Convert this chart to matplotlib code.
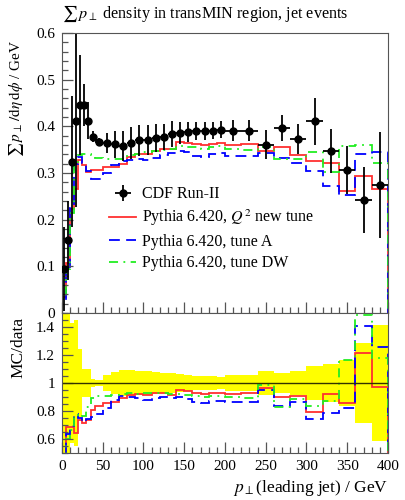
import numpy as np
import matplotlib
matplotlib.use("Agg")
import matplotlib.pyplot as plt
from matplotlib.ticker import MultipleLocator, FuncFormatter

plt.rcParams['font.family'] = ['Liberation Serif', 'DejaVu Serif']
plt.rcParams['mathtext.fontset'] = 'stix'
plt.rcParams['font.size'] = 10

# bin edges of the leading-jet pT histogram
edges = np.array([0, 5, 10, 15, 20, 25, 30, 35, 40, 50, 60, 70, 80, 90, 100,
                  110, 120, 130, 140, 150, 160, 170, 180, 190, 200, 220, 240,
                  260, 280, 300, 320, 340, 360, 380, 400])

# CDF Run-II data
cdf_val = np.array([0.094, 0.156, 0.324, 0.412, 0.446, 0.446, 0.412, 0.378,
                    0.367, 0.364, 0.362, 0.358, 0.365, 0.370, 0.371, 0.374,
                    0.377, 0.383, 0.386, 0.388, 0.390, 0.390, 0.391, 0.393,
                    0.391, 0.391, 0.361, 0.397, 0.372, 0.411, 0.348, 0.306,
                    0.242, 0.274])
cdf_err = np.array([0.090, 0.085, 0.140, 0.185, 0.107, 0.045, 0.040, 0.011,
                    0.008, 0.022, 0.029, 0.033, 0.034, 0.033, 0.032, 0.030,
                    0.028, 0.028, 0.024, 0.022, 0.019, 0.020, 0.019, 0.018,
                    0.023, 0.022, 0.031, 0.028, 0.032, 0.050, 0.047, 0.051,
                    0.070, 0.114])

# Pythia 6.420 predictions
q2_new = np.array([0.035, 0.107, 0.223, 0.266, 0.327, 0.318, 0.302, 0.306,
                   0.307, 0.312, 0.312, 0.319, 0.334, 0.340, 0.340, 0.347,
                   0.351, 0.351, 0.366, 0.365, 0.363, 0.359, 0.363, 0.365,
                   0.360, 0.362, 0.347, 0.356, 0.338, 0.325, 0.321, 0.262,
                   0.293, 0.266])
tune_a = np.array([0.025, 0.099, 0.224, 0.320, 0.335, 0.322, 0.305, 0.287,
                   0.287, 0.300, 0.318, 0.326, 0.328, 0.330, 0.327, 0.333,
                   0.338, 0.343, 0.348, 0.345, 0.337, 0.335, 0.340, 0.343,
                   0.337, 0.337, 0.342, 0.333, 0.321, 0.305, 0.273, 0.252,
                   0.341, 0.344])
tune_dw = np.array([0.030, 0.094, 0.215, 0.318, 0.339, 0.340, 0.340, 0.338,
                    0.333, 0.330, 0.330, 0.330, 0.338, 0.340, 0.344, 0.347,
                    0.350, 0.352, 0.357, 0.355, 0.355, 0.352, 0.356, 0.357,
                    0.352, 0.350, 0.356, 0.329, 0.329, 0.344, 0.303, 0.357,
                    0.360, 0.322])

centers = 0.5 * (edges[1:] + edges[:-1])
halfw = 0.5 * np.diff(edges)

red = '#ff3030'
blue = '#0000ff'
green = '#22ee22'

fig = plt.figure(figsize=(4.06, 5.0), dpi=100)
L, R = 62 / 406, 388 / 406
ax = fig.add_axes([L, 1 - 313 / 500, R - L, 280 / 500])
rx = fig.add_axes([L, 1 - 453 / 500, R - L, 140 / 500])

# main panel
h_data = ax.errorbar(centers, cdf_val, yerr=cdf_err, xerr=halfw, fmt='o',
                     color='black', ms=5, lw=1.3, capsize=0, zorder=5)
h_q2 = ax.stairs(q2_new, edges, color=red, lw=1.3)
h_a = ax.stairs(tune_a, edges, color=blue, lw=1.3, ls=(0, (6, 3.5)))
h_dw = ax.stairs(tune_dw, edges, color=green, lw=1.3, ls=(0, (5, 3, 1, 3)))

ax.set_xlim(0, 400)
ax.set_ylim(0, 0.6)
ax.yaxis.set_major_locator(MultipleLocator(0.1))
ax.yaxis.set_minor_locator(MultipleLocator(0.02))
ax.xaxis.set_major_locator(MultipleLocator(50))
ax.xaxis.set_minor_locator(MultipleLocator(10))
ax.yaxis.set_major_formatter(FuncFormatter(lambda v, p: '%g' % round(v, 3)))
ax.tick_params(labelbottom=False)
ax.set_ylabel(r'$\sum\, p_\perp\, / \mathrm{d}\eta\,\mathrm{d}\phi$ / GeV',
              loc='top', fontsize=11)
ax.yaxis.set_label_coords(-0.11, 0.975)

ax.legend([h_data, h_q2, h_a, h_dw],
          ['CDF Run-II', r'Pythia 6.420, $Q^2$ new tune',
           'Pythia 6.420, tune A', 'Pythia 6.420, tune DW'],
          loc='upper left', bbox_to_anchor=(0.125, 0.475), frameon=False,
          handlelength=1.7, handletextpad=0.35, labelspacing=0.34,
          borderaxespad=0, fontsize=11.5)

# ratio panel
rel = cdf_err / cdf_val
rx.stairs(1 + rel, edges, baseline=1 - rel, fill=True, color='#ffff00', lw=0)
rx.axhline(1.0, color='#333300', lw=1.0)
rx.stairs(q2_new / cdf_val, edges, color=red, lw=1.3)
rx.stairs(tune_a / cdf_val, edges, color=blue, lw=1.3, ls=(0, (6, 3.5)))
rx.stairs(tune_dw / cdf_val, edges, color=green, lw=1.3, ls=(0, (5, 3, 1, 3)))

rx.set_xlim(0, 400)
rx.set_ylim(0.5, 1.5)
rx.yaxis.set_major_locator(MultipleLocator(0.2))
rx.yaxis.set_minor_locator(MultipleLocator(0.05))
rx.xaxis.set_major_locator(MultipleLocator(50))
rx.xaxis.set_minor_locator(MultipleLocator(10))
rx.yaxis.set_major_formatter(FuncFormatter(lambda v, p: '%g' % round(v, 3)))
rx.set_ylabel('MC/data', loc='top', fontsize=12.5)
rx.yaxis.set_label_coords(-0.11, 0.97)
rx.set_xlabel(r'$p_\perp$(leading jet) / GeV', loc='right', fontsize=12.5)

for a in (ax, rx):
    a.tick_params(which='both', direction='in', top=False, right=False,
                  labelsize=11, color='#555555', pad=5)
    a.tick_params(which='major', length=8, width=0.9)
    a.tick_params(which='minor', length=4, width=0.9)
    for s in a.spines.values():
        s.set_color('#555555')

fig.text(L, 1 - 14 / 500, r'$\sum\, p_\perp$ density in transMIN region, jet events',
         ha='left', va='center', fontsize=11.6)

fig.savefig('out.png', dpi=100)
